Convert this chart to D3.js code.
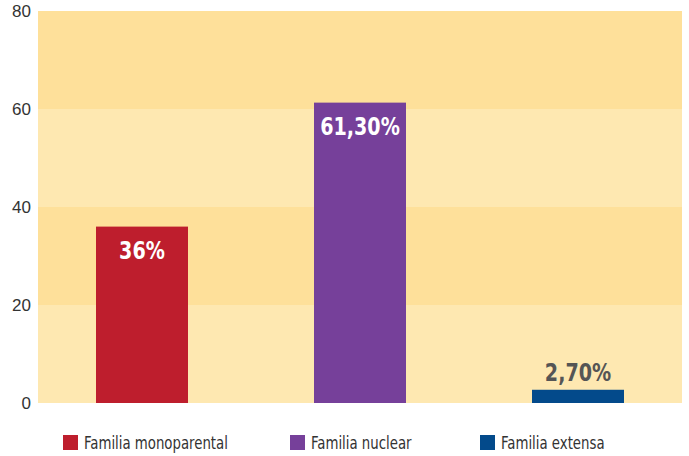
<!DOCTYPE html>
<html><head><meta charset="utf-8">
<script src="https://cdn.jsdelivr.net/npm/d3@7"></script>
<style>
body{margin:0;background:#fff;}
svg{display:block;font-family:"DejaVu Sans Condensed","DejaVu Sans",sans-serif;font-stretch:condensed;}
</style></head>
<body>
<svg id="c" width="689" height="456"></svg>
<script>
const categories = ["Familia monoparental", "Familia nuclear", "Familia extensa"];
const values = [36, 61.3, 2.7];
const valueLabels = ["36%", "61,30%", "2,70%"];
const colors = ["#BE1E2D", "#76409A", "#034A8B"];
const yTicks = [0, 20, 40, 60, 80];

const svg = d3.select("#c");
const plot = {left: 38, right: 682, top: 11, bottom: 403};
const y = d3.scaleLinear().domain([0, 80]).range([plot.bottom, plot.top]);
const x = d3.scaleBand().domain(categories).range([33, 687]).paddingInner(0.578).paddingOuter(0.289);

// condense text horizontally around its anchor x
function squeeze(sel, k) {
  sel.each(function() {
    const t = d3.select(this);
    const ax = +t.attr("x") || 0;
    t.attr("transform", `translate(${ax},0) scale(${k},1) translate(${-ax},0)`);
  });
}

// background bands
const bandPairs = d3.pairs(yTicks);
svg.append("g").selectAll("rect").data(bandPairs).join("rect")
  .attr("x", plot.left).attr("width", plot.right - plot.left)
  .attr("y", d => y(d[1])).attr("height", d => y(d[0]) - y(d[1]))
  .attr("fill", (d, i) => i % 2 === 0 ? "#FEE8B1" : "#FEE09A");

// y axis
const yAxis = d3.axisLeft(y).tickValues(yTicks).tickSize(0).tickPadding(7);
const ga = svg.append("g").attr("transform", `translate(${plot.left},0)`).call(yAxis);
ga.select(".domain").remove();
ga.selectAll("text").attr("font-size", 17).attr("fill", "#333").attr("font-family", null);

// bars
svg.append("g").selectAll("rect").data(values).join("rect")
  .attr("x", (d, i) => x(categories[i]))
  .attr("width", x.bandwidth())
  .attr("y", d => y(d))
  .attr("height", d => y(0) - y(d))
  .attr("fill", (d, i) => colors[i]);

// value labels
svg.append("g").selectAll("text").data(values).join("text")
  .attr("x", (d, i) => x(categories[i]) + x.bandwidth() / 2)
  .attr("y", d => d > 10 ? y(d) + 32 : y(d) - 9)
  .attr("text-anchor", "middle")
  .attr("font-size", 25).attr("font-weight", "bold")
  .attr("fill", d => d > 10 ? "#fff" : "#555")
  .text((d, i) => valueLabels[i])
  .call(squeeze, 0.85);

// legend
const legendX = [63, 290, 480];
const lg = svg.append("g").selectAll("g").data(categories).join("g")
  .attr("transform", (d, i) => `translate(${legendX[i]},435)`);
lg.append("rect").attr("width", 15).attr("height", 15).attr("fill", (d, i) => colors[i]);
lg.append("text").attr("x", 21).attr("y", 13.5).attr("font-size", 17).attr("fill", "#333").text(d => d)
  .call(squeeze, 0.87);
</script>
</body></html>
